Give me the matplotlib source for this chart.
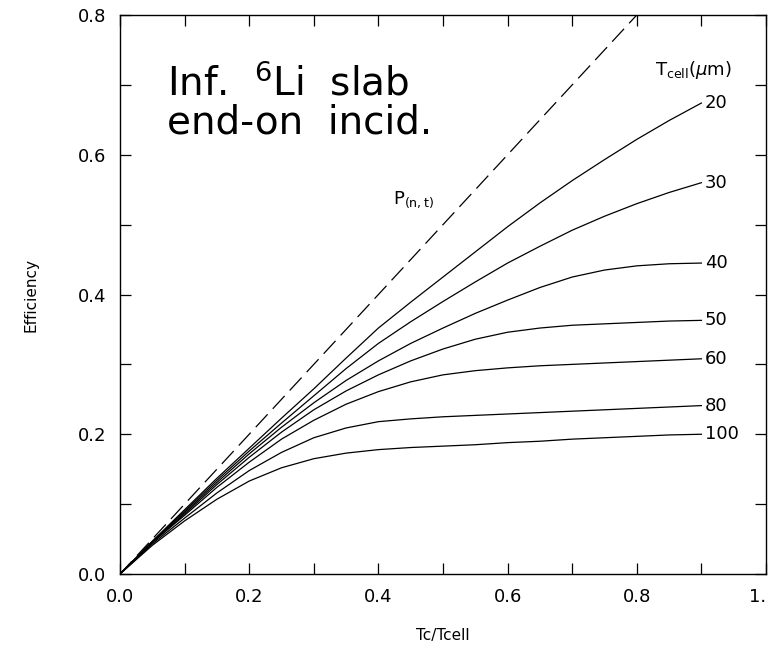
import matplotlib
matplotlib.use("Agg")
import matplotlib.pyplot as plt
import numpy as np

# Tc/Tcell sample points
x = [0.0, 0.05, 0.1, 0.15, 0.2, 0.25, 0.3, 0.35, 0.4, 0.45,
     0.5, 0.55, 0.6, 0.65, 0.7, 0.75, 0.8, 0.85, 0.9]

# efficiency for each cell thickness (um)
eff_20 = [0.0, 0.047, 0.092, 0.137, 0.180, 0.223, 0.265, 0.309, 0.352, 0.389,
          0.425, 0.461, 0.497, 0.531, 0.563, 0.593, 0.622, 0.649, 0.674]
eff_30 = [0.0, 0.046, 0.090, 0.134, 0.176, 0.216, 0.255, 0.294, 0.330, 0.361,
          0.390, 0.418, 0.445, 0.469, 0.492, 0.512, 0.530, 0.546, 0.560]
eff_40 = [0.0, 0.046, 0.088, 0.131, 0.172, 0.210, 0.245, 0.277, 0.305, 0.330,
          0.352, 0.373, 0.392, 0.410, 0.425, 0.435, 0.441, 0.444, 0.445]
eff_50 = [0.0, 0.045, 0.086, 0.128, 0.167, 0.203, 0.235, 0.262, 0.285, 0.305,
          0.322, 0.336, 0.346, 0.352, 0.356, 0.358, 0.360, 0.362, 0.363]
eff_60 = [0.0, 0.045, 0.084, 0.124, 0.160, 0.193, 0.220, 0.243, 0.261, 0.275,
          0.285, 0.291, 0.295, 0.298, 0.300, 0.302, 0.304, 0.306, 0.308]
eff_80 = [0.0, 0.043, 0.080, 0.116, 0.148, 0.174, 0.195, 0.209, 0.218, 0.222,
          0.225, 0.227, 0.229, 0.231, 0.233, 0.235, 0.237, 0.239, 0.241]
eff_100 = [0.0, 0.041, 0.076, 0.107, 0.133, 0.152, 0.165, 0.173, 0.178, 0.181,
           0.183, 0.185, 0.188, 0.190, 0.193, 0.195, 0.197, 0.199, 0.200]

curves = [eff_20, eff_30, eff_40, eff_50, eff_60, eff_80, eff_100]
labels = ["20", "30", "40", "50", "60", "80", "100"]

# P(n,t) reference line
p_x = [0.0, 0.8]
p_y = [0.0, 0.8]

xticks = [0.0, 0.1, 0.2, 0.3, 0.4, 0.5, 0.6, 0.7, 0.8, 0.9, 1.0]
xticklabels = ["0.0", "", "0.2", "", "0.4", "", "0.6", "", "0.8", "", "1."]
yticks = [0.0, 0.1, 0.2, 0.3, 0.4, 0.5, 0.6, 0.7, 0.8]
yticklabels = ["0.0", "", "0.2", "", "0.4", "", "0.6", "", "0.8"]

fig = plt.figure(figsize=(7.71, 6.5), dpi=100)
ax = fig.add_axes([120 / 771, 76 / 650, 646 / 771, 559 / 650])

for vals, lab in zip(curves, labels):
    ax.plot(x, vals, color="black", lw=0.9)
    ax.text(x[-1] + 0.005, vals[-1], lab, fontsize=13, ha="left", va="center")

ax.plot(p_x, p_y, color="black", lw=0.9, dashes=(14, 6))

ax.set_xlim(0, 1)
ax.set_ylim(0, 0.8)
ax.set_xticks(xticks)
ax.set_xticklabels(xticklabels)
ax.set_yticks(yticks)
ax.set_yticklabels(yticklabels)
ax.tick_params(direction="in", length=8, width=0.9, top=True, right=True,
               labelsize=13, pad=10)
# keep the "1." label inside the figure like the reference
ax.get_xticklabels()[-1].set_horizontalalignment("right")
for sp in ax.spines.values():
    sp.set_linewidth(1.0)

ax.set_xlabel("Tc/Tcell", fontsize=11, labelpad=16)
ax.set_ylabel("Efficiency", fontsize=11, labelpad=28)

ax.text(0.073, 0.685, "Inf.  $^{6}$Li  slab", fontsize=28, ha="left", va="baseline")
ax.text(0.073, 0.630, "end-on  incid.", fontsize=28, ha="left", va="baseline")
ax.text(0.828, 0.722, r"T$_{\mathrm{cell}}$($\mu$m)", fontsize=13, ha="left", va="center")
ax.text(0.423, 0.535, r"P$_{\mathrm{(n,t)}}$", fontsize=13, ha="left", va="center")

fig.savefig("out.png", dpi=100)
